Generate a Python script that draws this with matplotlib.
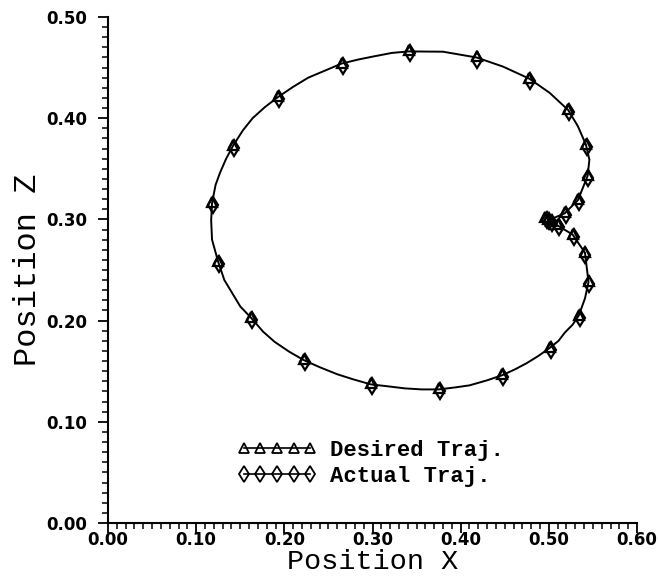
import numpy as np
import matplotlib
matplotlib.use("Agg")
import matplotlib.pyplot as plt
from matplotlib.lines import Line2D

# trajectory curve (starting at the cusp)
curve_x = [0.499, 0.518, 0.533, 0.544, 0.546, 0.542, 0.533, 0.522, 0.501, 0.478,
           0.448, 0.418, 0.380, 0.341, 0.322, 0.301, 0.284, 0.265, 0.246, 0.227,
           0.210, 0.193, 0.178, 0.164, 0.153, 0.142, 0.134, 0.127, 0.122, 0.118,
           0.117, 0.118, 0.125, 0.132, 0.141, 0.150, 0.162, 0.176, 0.189, 0.206,
           0.222, 0.240, 0.260, 0.278, 0.298, 0.318, 0.337, 0.356, 0.375, 0.394,
           0.410, 0.430, 0.447, 0.462, 0.475, 0.488, 0.501, 0.511, 0.518, 0.527,
           0.534, 0.541, 0.545, 0.541, 0.527, 0.510, 0.499]
curve_z = [0.299, 0.306, 0.319, 0.343, 0.359, 0.374, 0.392, 0.408, 0.425, 0.439,
           0.451, 0.460, 0.4657, 0.466, 0.4645, 0.461, 0.458, 0.454, 0.447, 0.440,
           0.431, 0.421, 0.411, 0.400, 0.388, 0.373, 0.360, 0.346, 0.334, 0.316,
           0.299, 0.280, 0.258, 0.240, 0.227, 0.214, 0.203, 0.189, 0.179, 0.169,
           0.161, 0.154, 0.147, 0.142, 0.137, 0.135, 0.133, 0.132, 0.132, 0.134,
           0.136, 0.141, 0.146, 0.152, 0.158, 0.165, 0.173, 0.180, 0.188, 0.196,
           0.205, 0.222, 0.238, 0.267, 0.285, 0.294, 0.299]

# sampled points
desired_x = [0.499, 0.518, 0.533, 0.544, 0.542, 0.522, 0.478, 0.418, 0.341, 0.265,
             0.193, 0.142, 0.118, 0.125, 0.162, 0.222, 0.298, 0.375, 0.447, 0.501,
             0.534, 0.545, 0.541, 0.527, 0.510, 0.496, 0.503]
desired_z = [0.300, 0.307, 0.320, 0.344, 0.375, 0.409, 0.440, 0.461, 0.467, 0.455,
             0.422, 0.374, 0.317, 0.259, 0.204, 0.162, 0.138, 0.133, 0.147, 0.174,
             0.206, 0.239, 0.268, 0.286, 0.295, 0.302, 0.298]
actual_x = [0.500, 0.519, 0.534, 0.544, 0.543, 0.523, 0.479, 0.419, 0.342, 0.266,
            0.194, 0.143, 0.119, 0.126, 0.163, 0.223, 0.299, 0.376, 0.448, 0.502,
            0.535, 0.545, 0.541, 0.528, 0.511, 0.498, 0.504]
actual_z = [0.298, 0.304, 0.317, 0.341, 0.372, 0.406, 0.437, 0.458, 0.464, 0.452,
            0.419, 0.371, 0.314, 0.256, 0.201, 0.159, 0.135, 0.130, 0.144, 0.171,
            0.203, 0.236, 0.265, 0.283, 0.292, 0.299, 0.296]

fig = plt.figure(figsize=(6.58, 5.79), dpi=100)
ax = fig.add_axes([108/658, 56/579, 529/658, 506/579])

ax.plot(curve_x, curve_z, color="black", lw=1.4)
ax.plot(desired_x, desired_z, ls="none", marker="^", ms=7, mfc="none",
        mec="black", mew=1.6)
ax.plot(actual_x, actual_z, ls="none", marker="d", ms=8, mfc="none",
        mec="black", mew=1.6)

ax.set_xlim(0, 0.6)
ax.set_ylim(0, 0.5)
ax.set_xticks(np.arange(0, 0.61, 0.1))
ax.set_yticks(np.arange(0, 0.51, 0.1))
ax.set_xticks(np.arange(0, 0.601, 0.01), minor=True)
ax.set_yticks(np.arange(0, 0.501, 0.01), minor=True)
ax.xaxis.set_major_formatter(matplotlib.ticker.FormatStrFormatter("%.2f"))
ax.yaxis.set_major_formatter(matplotlib.ticker.FormatStrFormatter("%.2f"))

for s in ["top", "right"]:
    ax.spines[s].set_visible(False)
for s in ["left", "bottom"]:
    ax.spines[s].set_linewidth(1.5)

ax.tick_params(which="major", direction="out", length=7, width=1.3)
ax.tick_params(which="minor", direction="out", length=4, width=1.1)
ax.tick_params(axis="x", which="major", pad=-1)
ax.tick_params(axis="y", which="major", pad=8)
for lab in ax.get_xticklabels() + ax.get_yticklabels():
    lab.set_fontfamily("DejaVu Sans")
    lab.set_fontweight("bold")
    lab.set_fontsize(12)

ax.set_xlabel("Position X", fontfamily="Liberation Mono", fontsize=20.5, labelpad=0)
ax.set_ylabel("Position Z", fontfamily="Liberation Mono", fontsize=23, labelpad=2)

h1 = Line2D([], [], color="black", lw=1.2, marker="^", ms=7, mfc="none",
            mec="black", mew=1.3)
h2 = Line2D([], [], color="black", lw=1.2, marker="d", ms=8, mfc="none",
            mec="black", mew=1.3)
ax.legend([h1, h2], ["Desired Traj.", "Actual Traj."], numpoints=5,
          frameon=False, loc="upper left",
          bbox_to_anchor=(237/658, 1 - 440/579), bbox_transform=fig.transFigure,
          borderpad=0, borderaxespad=0, handlelength=3.6, handletextpad=0.6,
          labelspacing=0.22,
          prop={"family": "Liberation Mono", "size": 16, "weight": "bold"})

fig.savefig("out.png", dpi=100)
